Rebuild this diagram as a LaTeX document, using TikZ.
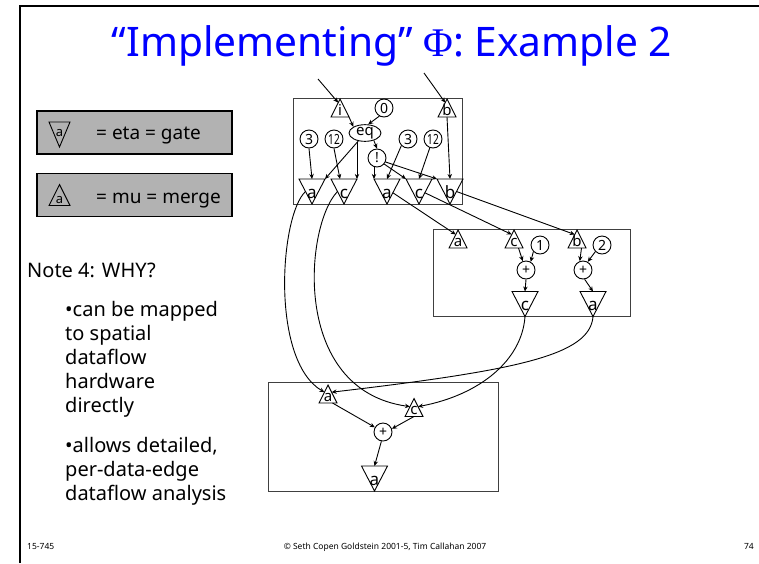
\documentclass[tikz,border=0pt]{standalone}
\usepackage{graphicx}
\usepackage{fontspec}
\setmainfont{Noto Sans}
\newfontfamily\symbolserif{Liberation Serif}
\usetikzlibrary{arrows.meta,calc,shapes.geometric}

\definecolor{titleblue}{RGB}{0,0,255}
\definecolor{legendgray}{RGB}{178,178,178}
\definecolor{regionline}{RGB}{64,64,64}

\tikzset{
  conn/.style={draw=black, line width=0.9pt, -{Stealth[length=5pt,width=4.4pt]}},
  region/.style={draw=regionline, line width=1pt, inner sep=0pt, outer sep=0pt},
  tri/.style={draw=black, line width=0.9pt, line join=miter},
  % gates point down, letter sits in the wide upper part
  gate/.style={minimum width=26pt, minimum height=25pt, inner sep=0pt, outer sep=0pt,
    text height=13pt, text depth=0pt, font=\fontsize{17}{17}\selectfont},
  % merges point up, letter sits on the base
  merge/.style={minimum width=18pt, minimum height=18pt, inner sep=0pt, outer sep=0pt,
    text height=14pt, text depth=0pt, font=\fontsize{15}{15}\selectfont},
  konst/.style={circle, draw=black, line width=0.9pt, minimum size=18pt, inner sep=0pt, font=\fontsize{14}{14}\selectfont},
  cmpnode/.style={ellipse, draw=black, line width=0.9pt, minimum width=32pt, minimum height=16pt, inner sep=0pt, font=\fontsize{15}{15}\selectfont},
  legendbox/.style={draw=black, line width=1.5pt, fill=legendgray, minimum width=195pt, minimum height=43pt, inner sep=0pt},
  legendtext/.style={font=\fontsize{19}{19}\selectfont, anchor=base west, inner sep=0pt},
  notetext/.style={font=\fontsize{20}{24}\selectfont, anchor=base west, inner sep=0pt},
  foot/.style={font=\fontsize{8.5}{8.5}\selectfont, inner sep=0pt, anchor=base},
}

\begin{document}
\begin{tikzpicture}[x=1pt,y=-1pt]
\useasboundingbox (0,0) rectangle (759,563);

% slide frame
\draw[line width=2pt] (20,563) -- (20,6) -- (759,6);

% title
\node[font=\fontsize{40.7}{48}\selectfont, text=titleblue, anchor=base, inner sep=0pt] (title) at (392,56)
  {“Implementing” {\symbolserif Φ}: Example 2};

% legend
\node[legendbox] (lgate) at (134.5,132.5) {};
\node[legendbox] (lmerge) at (134.5,195) {};
\node[minimum width=21pt, minimum height=25pt, inner sep=0pt, outer sep=0pt,
      text height=4pt, text depth=0pt, font=\fontsize{13}{13}\selectfont] (lgtri) at (59.5,134.5) {a};
\node[minimum width=21pt, minimum height=21pt, inner sep=0pt, outer sep=0pt,
      text height=16pt, text depth=0pt, font=\fontsize{13}{13}\selectfont] (lmtri) at (59.5,195) {a};
\draw[tri] (lgtri.north west) -- (lgtri.north east) -- (lgtri.south) -- cycle;
\draw[tri] (lmtri.south west) -- (lmtri.south east) -- (lmtri.north) -- cycle;
\node[legendtext] (lgtext) at (96,139) {= eta = gate};
\node[legendtext] (lmtext) at (96,203) {= mu = merge};

% notes
\node[notetext] (note) at (27,277) {Note 4: WHY?};
\node[notetext] (n1) at (65,316) {•can be mapped};
\node[notetext] (n2) at (65,340) {to spatial};
\node[notetext] (n3) at (65,364) {dataflow};
\node[notetext] (n4) at (65,388) {hardware};
\node[notetext] (n5) at (65,412) {directly};
\node[notetext] (n6) at (65,452) {•allows detailed,};
\node[notetext] (n7) at (65,476) {per-data-edge};
\node[notetext] (n8) at (65,500) {dataflow analysis};

% footer
\node[foot, anchor=base west] (course) at (27,549) {15-745};
\node[foot] (copy) at (385,549) {© Seth Copen Goldstein 2001-5, Tim Callahan 2007};
\node[foot, anchor=base east] (page) at (754,549) {74};

% regions
\node[region, minimum width=169pt, minimum height=106pt] (topbox) at (377.5,151) {};
\node[region, minimum width=197pt, minimum height=87pt] (midbox) at (531.5,272.5) {};
\node[region, minimum width=230pt, minimum height=109pt] (botbox) at (383,436.5) {};

% top region
\node[merge] (mi) at (340,108) {i};
\node[konst] (z0) at (384,108) {0};
\node[merge] (mb) at (447,108) {b};
\node[cmpnode] (eq) at (365,133) {eq};
\node[konst] (k3a) at (309,139) {3};
\node[konst] (k12a) at (334,139) {\scalebox{0.72}[1]{12}};
\node[konst] (k3b) at (408,139) {3};
\node[konst] (k12b) at (433,139) {\scalebox{0.72}[1]{12}};
\node[konst] (nt) at (377,158) {!};
\node[gate] (ga1) at (312,191.5) {a};
\node[gate] (gc1) at (344,191.5) {c};
\node[gate] (ga2) at (387,191.5) {a};
\node[gate] (gc2) at (419,191.5) {c};
\node[gate] (gb) at (450,191.5) {b};

% middle region
\node[merge] (ma) at (458,239) {a};
\node[merge] (mc) at (514,239) {c};
\node[merge] (mb2) at (577,239) {b};
\node[konst] (k1) at (540,245) {1};
\node[konst] (k2) at (602,245) {2};
\node[konst] (p1) at (526,270) {+};
\node[konst] (p2) at (583,270) {+};
\node[gate] (gc3) at (525,304) {c};
\node[gate] (ga3) at (593,304) {a};

% bottom region
\node[merge] (ma4) at (328,394) {a};
\node[merge] (mc4) at (414,407.5) {c};
\node[konst] (p4) at (383,432) {+};
\node[gate] (ga4) at (374.5,478.5) {a};

% triangle outlines: gates point down, merges point up
\foreach \n in {ga1,gc1,ga2,gc2,gb,gc3,ga3,ga4}
  \draw[tri] (\n.north west) -- (\n.north east) -- (\n.south) -- cycle;
\foreach \n in {mi,mb,ma,mc,mb2,ma4,mc4}
  \draw[tri] (\n.south west) -- (\n.south east) -- (\n.north) -- cycle;

% incoming values
\coordinate (in1) at (318,79);
\coordinate (in2) at (424,73);
\draw[conn] (in1) -- ($(mi.north)!0.2!(mi.south west)$);
\draw[conn] (in2) -- ($(mb.north)!0.2!(mb.south west)$);

% top region edges
\draw[conn] (mi.south east) -- (eq.north west);
\draw[conn] (z0.240) -- (eq.70);
\draw[conn] (eq.-40) -- (nt.north);
\draw[conn] (k3a.south) -- (ga1.north);
\draw[conn] (k12a.south) -- ([xshift=-4pt]gc1.north);
\draw[conn] (eq.-130) -- (ga1.north east);
\draw[conn] (gc1.north east |- eq.south) -- (gc1.north east);
\draw[conn] (ga2.north west |- nt.south) -- (ga2.north west);
\draw[conn] (k3b.south west) -- (ga2.north);
\draw[conn] (k12b.-110) -- (gc2.north);
\draw[conn] (nt.-40) -- (gc2.north west);
\draw[conn] (nt.-25) -- (gb.north west);
\draw[conn] (mb.south) -- (gb.north);

% top to middle
\draw[conn] ($(ga2.north east)!0.55!(ga2.south)$) -- ($(ma.north)!0.25!(ma.south west)$);
\draw[conn] ($(gc2.north east)!0.55!(gc2.south)$) -- ($(mc.north)!0.25!(mc.south west)$);
\draw[conn] ($(gb.north east)!0.5!(gb.south)$) -- ($(mb2.north)!0.25!(mb2.south west)$);

% middle region edges
\draw[conn] ($(mc.south)!0.5!(mc.south east)$) -- (p1.110);
\draw[conn] (k1.south west) -- (p1.60);
\draw[conn] (p1.south) -- (gc3.north);
\draw[conn] ($(mb2.south)!0.5!(mb2.south east)$) -- (p2.110);
\draw[conn] (k2.south west) -- (p2.60);
\draw[conn] (p2.-80) -- (ga3.north);

% long edges into the bottom region
\draw[conn] ($(ga1.north west)!0.5!(ga1.south)$) .. controls (280,215) and (270,360) .. ($(ma4.north)!0.4!(ma4.south west)$);
\draw[conn] ($(gc1.north west)!0.5!(gc1.south)$) .. controls (305,225) and (290,390) .. ($(mc4.north)!0.45!(mc4.south west)$);
\draw[conn] (gc3.south) .. controls (522,360) and (480,395) .. ($(mc4.north)!0.45!(mc4.south east)$);
\draw[conn] (ga3.south) .. controls (590,355) and (520,370) .. ($(ma4.north)!0.4!(ma4.south east)$);

% bottom region edges
\draw[conn] ($(ma4.south)!0.5!(ma4.south east)$) -- (p4.150);
\draw[conn] (mc4.south) -- (p4.20);
\draw[conn] (p4.-100) -- (ga4.north);

\end{tikzpicture}
\end{document}
